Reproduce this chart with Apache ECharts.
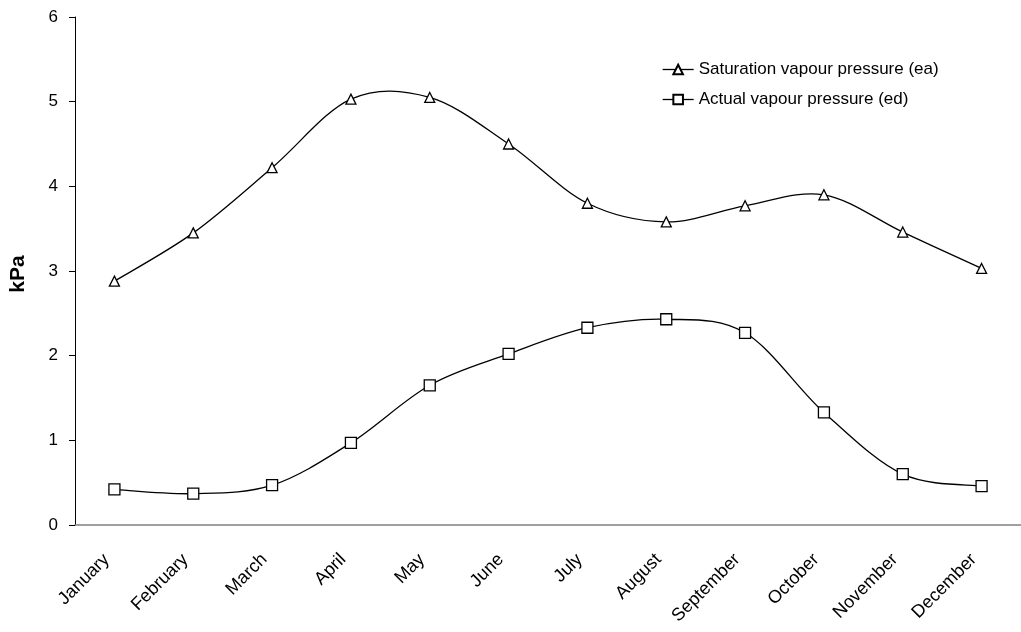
<!DOCTYPE html>
<html>
<head>
<meta charset="utf-8">
<script src="https://cdn.jsdelivr.net/npm/echarts@6/dist/echarts.min.js"></script>
<style>html,body{margin:0;padding:0;background:#fff}#c{width:1021px;height:632px}</style>
</head>
<body>
<div id="c"></div>
<script>
var months = ['January','February','March','April','May','June','July','August','September','October','November','December'];
var saturation = [2.88, 3.45, 4.22, 5.03, 5.05, 4.50, 3.80, 3.58, 3.77, 3.90, 3.46, 3.03];
var actual = [0.42, 0.37, 0.47, 0.97, 1.65, 2.02, 2.33, 2.43, 2.27, 1.33, 0.60, 0.46];
var yTicks = [0, 1, 2, 3, 4, 5, 6];
var seriesNames = ['Saturation vapour pressure (ea)', 'Actual vapour pressure (ed)'];

var font = 'Liberation Sans, Arial, sans-serif';

// Excel-like smoothed segment (Catmull-Rom / Bezier) drawn through axis coordinates
function smoothRenderer(values) {
  return function (params, api) {
    var i = params.dataIndex;
    var n = values.length;
    if (i >= n - 1) return null;
    function pt(k) {
      k = Math.max(0, Math.min(n - 1, k));
      return api.coord([k, values[k]]);
    }
    var p0 = pt(i - 1), p1 = pt(i), p2 = pt(i + 1), p3 = pt(i + 2);
    var t = 1 / 6;
    return {
      type: 'bezierCurve',
      shape: {
        x1: p1[0], y1: p1[1], x2: p2[0], y2: p2[1],
        cpx1: p1[0] + (p2[0] - p0[0]) * t, cpy1: p1[1] + (p2[1] - p0[1]) * t,
        cpx2: p2[0] - (p3[0] - p1[0]) * t, cpy2: p2[1] - (p3[1] - p1[1]) * t
      },
      style: {stroke: '#000', lineWidth: 1.3, fill: null}
    };
  };
}

var chart = echarts.init(document.getElementById('c'), null, {renderer: 'canvas'});
chart.setOption({
  animation: false,
  backgroundColor: '#fff',
  textStyle: {fontFamily: font},
  grid: {left: 74, top: 17, width: 954, bottom: 107, containLabel: false},
  legend: {
    orient: 'vertical', left: 657, top: 56,
    itemWidth: 31, itemHeight: 12, itemGap: 13,
    textStyle: {fontFamily: font, fontSize: 17, color: '#000'},
    lineStyle: {color: '#000', width: 1.3, opacity: 1},
    data: seriesNames
  },
  xAxis: {
    type: 'category', data: months, boundaryGap: true,
    axisLine: {lineStyle: {color: '#808080', width: 1.5}},
    axisTick: {length: 6, lineStyle: {color: '#000'}},
    axisLabel: {rotate: 45, fontSize: 18, color: '#000', margin: 24, padding: [0, 11, 0, 0], fontFamily: font, interval: 0}
  },
  yAxis: {
    type: 'value', min: yTicks[0], max: yTicks[yTicks.length - 1], interval: 1,
    name: 'kPa', nameLocation: 'middle', nameGap: 46, nameRotate: 90,
    nameTextStyle: {fontWeight: 'bold', fontSize: 21, color: '#000', fontFamily: font, padding: [0, 6, 0, 0]},
    axisLine: {show: true, lineStyle: {color: '#000', width: 1}},
    axisTick: {show: true, length: 6, lineStyle: {color: '#000'}},
    splitLine: {show: false},
    axisLabel: {fontSize: 17, color: '#000', margin: 17, fontFamily: font}
  },
  series: [
    {
      name: seriesNames[0], type: 'line', data: saturation, z: 3,
      symbol: 'triangle', symbolSize: 10,
      lineStyle: {color: '#000', width: 1.3, opacity: 0},
      itemStyle: {color: '#fff', borderColor: '#000', borderWidth: 1.3}
    },
    {
      name: seriesNames[1], type: 'line', data: actual, z: 3,
      symbol: 'rect', symbolSize: 11,
      lineStyle: {color: '#000', width: 1.3, opacity: 0},
      itemStyle: {color: '#fff', borderColor: '#000', borderWidth: 1.3}
    },
    {
      name: seriesNames[0], type: 'custom', data: saturation, z: 2,
      renderItem: smoothRenderer(saturation), silent: true
    },
    {
      name: seriesNames[1], type: 'custom', data: actual, z: 2,
      renderItem: smoothRenderer(actual), silent: true
    }
  ]
});
</script>
</body>
</html>
